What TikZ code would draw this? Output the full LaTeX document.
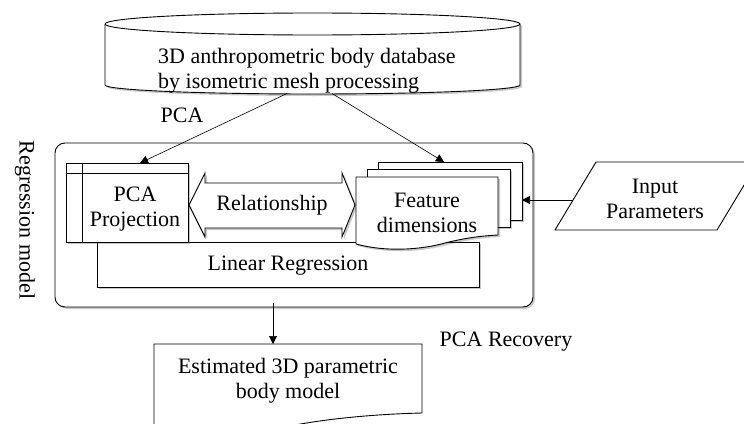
\documentclass[tikz,border=0pt]{standalone}
\usepackage{fontspec}
\setmainfont{Liberation Serif}
\usetikzlibrary{arrows.meta,shadows,calc}
\begin{document}
\begin{tikzpicture}[x=1pt,y=1pt,
  txt/.style={font=\fontsize{22}{25}\selectfont, inner sep=0pt, align=center},
  shad/.style={drop shadow={shadow xshift=2pt, shadow yshift=-2pt, opacity=0.3, fill=black!70}},
  shape line/.style={draw=black, line width=0.9pt, fill=white},
  conn/.style={draw=black, line width=0.6pt, -{Triangle[length=8pt,width=8pt]}}]
\path[use as bounding box, clip] (0,0) rectangle (744,-423);

% database cylinder
\path[shape line, shad] (105,-24) -- (105,-85)
  arc[start angle=180, end angle=360, x radius=207.5, y radius=9]
  -- (520,-24)
  arc[start angle=0, end angle=180, x radius=207.5, y radius=11] -- cycle;
\draw[line width=0.9pt] (105,-24) arc[start angle=180, end angle=360, x radius=207.5, y radius=11];
\node[txt, align=left, anchor=west] (db) at (158,-71) {3D anthropometric body database\\by isometric mesh processing};
\coordinate (dbL) at (287,-93.5);
\coordinate (dbR) at (332,-93.5);

\node[txt] (pca) at (182,-115) {PCA};

% outer regression model box
\path[shape line, shad, rounded corners=10pt] (55,-143) rectangle (533,-307);
\node[txt, rotate=-90] (regm) at (25,-220) {Regression model};

% linear regression
\path[shape line, shad] (97,-242) rectangle (479,-287);
\node[txt] (lr) at (288,-266) {Linear Regression};

% PCA projection (internal storage)
\node[shape line, shad, minimum width=122pt, minimum height=79pt, inner sep=0pt] (pp) at (127,-202.5) {};
\draw[line width=0.9pt] (82,-163) -- (82,-242);
\draw[line width=0.9pt] (66,-173) -- (188,-173);
\node[txt] (pptxt) at (135,-209.5) {PCA\\Projection};
\coordinate (ppT) at (140,-163);

% relationship double arrow
\path[shape line, shad] (189,-205) -- (205,-173) -- (205,-183) -- (342,-183) -- (342,-173)
  -- (355,-205) -- (342,-237) -- (342,-228) -- (205,-228) -- (205,-237) -- cycle;
\node[txt] (rel) at (272,-205) {Relationship};

% feature dimensions multi-document
\path[shape line, shad] (378,-162) rectangle (522,-220);
\path[shape line, shad] (367,-169) rectangle (510,-227);
\path[shape line, shad] (356,-244) -- (356,-177) -- (498,-177) -- (498,-235)
  .. controls (480,-236) and (465,-238) .. (445,-243)
  .. controls (420,-250) and (385,-252) .. (356,-244) -- cycle;
\node[txt] (fd) at (427,-213) {Feature\\dimensions};
\coordinate (fdT) at (444,-162);
\coordinate (fdR) at (522,-200);

% input parameters
\path[shape line] (596,-162) -- (758,-162) -- (717,-230) -- (555,-230) -- cycle;
\node[txt] (inp) at (655,-198.5) {Input\\Parameters};
\coordinate (inpL) at (573,-200);

% estimated body model
\path[shape line] (154,-440) -- (154,-344) -- (422,-344) -- (422,-413)
  .. controls (380,-414) and (330,-418) .. (290,-426)
  .. controls (250,-434) and (200,-440) .. (154,-440);
\node[txt] (est) at (288,-380.5) {Estimated 3D parametric\\body model};
\coordinate (estT) at (273,-344);
\coordinate (regB) at (273,-303);

\node[txt] (rec) at (506,-342) {PCA Recovery};

% connectors
\draw[conn] (dbL) -- (ppT);
\draw[conn] (dbR) -- (fdT);
\draw[conn] (inpL) -- (fdR);
\draw[conn] (regB) -- (estT);
\end{tikzpicture}
\end{document}
